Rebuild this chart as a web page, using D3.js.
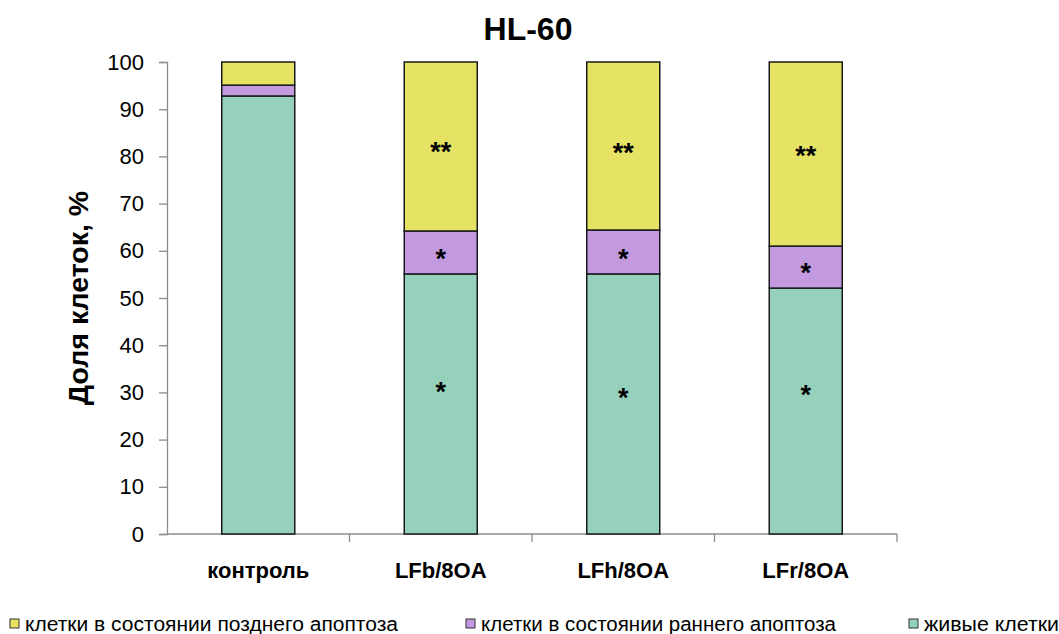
<!DOCTYPE html>
<html>
<head>
<meta charset="utf-8">
<script src="https://cdn.jsdelivr.net/npm/d3@7"></script>
<style>
  body { margin: 0; background: #fff; }
  svg { display: block; font-family: "Liberation Sans", Arial, sans-serif; }
</style>
</head>
<body>
<svg id="chart" width="1059" height="634"></svg>
<script>
// Categories and stacked percentages (bottom to top: live, early apoptosis, late apoptosis)
const categories = ["контроль", "LFb/8OA", "LFh/8OA", "LFr/8OA"];
const live  = [92.8, 55.1, 55.1, 52.1];
const early = [2.3, 9.1, 9.3, 8.9];
const late  = [4.9, 35.8, 35.6, 39.0];

// Significance marks per segment, with the value level at which each is written
const liveMarks  = ["", "*", "*", "*"];
const liveMarkY  = [0, 31.4, 30.1, 30.7];
const earlyMarks = ["", "*", "*", "*"];
const earlyMarkY = [0, 59.6, 59.7, 56.6];
const lateMarks  = ["", "**", "**", "**"];
const lateMarkY  = [0, 82.3, 82.1, 81.5];

const seriesNames = ["клетки в состоянии позднего апоптоза", "клетки в состоянии раннего апоптоза", "живые клетки"];
const seriesColors = ["#E5E264", "#C39AE0", "#96D2BB"];
const yTicks = [0, 10, 20, 30, 40, 50, 60, 70, 80, 90, 100];

const svg = d3.select("#chart");
const margin = { left: 167, right: 162, top: 62, bottom: 100 };
const W = 1059, H = 634;

const x = d3.scaleBand().domain(categories).range([margin.left, W - margin.right]).paddingInner(0.6).paddingOuter(0.3);
const xOuter = d3.scaleBand().domain(categories).range([margin.left, W - margin.right]);
const y = d3.scaleLinear().domain([0, 100]).range([H - margin.bottom, margin.top]);

// Stack the three series
const rows = categories.map((c, i) => ({ cat: c, live: live[i], early: early[i], late: late[i] }));
const stack = d3.stack().keys(["live", "early", "late"])(rows);
const colorFor = { live: seriesColors[2], early: seriesColors[1], late: seriesColors[0] };

// Axes
const yAxis = d3.axisLeft(y).tickValues(yTicks).tickSize(8).tickPadding(15);
const gy = svg.append("g").attr("transform", `translate(${margin.left},0)`).call(yAxis);
gy.selectAll("path, line").attr("stroke", "#8c8c8c").attr("stroke-width", 1.3);
gy.selectAll("text").attr("font-size", 22).attr("fill", "#000");

// X axis baseline with separator ticks between categories
const gx = svg.append("g");
gx.append("line")
  .attr("x1", margin.left).attr("x2", W - margin.right)
  .attr("y1", y(0)).attr("y2", y(0))
  .attr("stroke", "#8c8c8c").attr("stroke-width", 1.3);
gx.selectAll("line.sep").data(categories.slice(1)).join("line")
  .attr("class", "sep")
  .attr("x1", d => xOuter(d)).attr("x2", d => xOuter(d))
  .attr("y1", y(0)).attr("y2", y(0) + 8)
  .attr("stroke", "#8c8c8c").attr("stroke-width", 1.3);
gx.append("line")
  .attr("x1", W - margin.right).attr("x2", W - margin.right)
  .attr("y1", y(0)).attr("y2", y(0) + 8)
  .attr("stroke", "#8c8c8c").attr("stroke-width", 1.3);
gx.selectAll("text").data(categories).join("text")
  .attr("x", d => xOuter(d) + xOuter.bandwidth() / 2)
  .attr("y", y(0) + 44)
  .attr("text-anchor", "middle")
  .attr("font-size", 22).attr("font-weight", "bold")
  .text(d => d);

// Stacked bars
stack.forEach(layer => {
  svg.append("g").selectAll("rect").data(layer).join("rect")
    .attr("x", d => x(d.data.cat))
    .attr("width", x.bandwidth())
    .attr("y", d => y(d[1]))
    .attr("height", d => y(d[0]) - y(d[1]))
    .attr("fill", colorFor[layer.key])
    .attr("stroke", "#1a1a1a").attr("stroke-width", 1.5);
});

// Significance asterisks, glyph centred on the given value
const markSize = 27;
const markShift = markSize * 0.57;
const markLayer = svg.append("g").attr("font-size", markSize).attr("font-weight", "bold").attr("text-anchor", "middle");
categories.forEach((c, i) => {
  const cx = x(c) + x.bandwidth() / 2;
  [[liveMarks, liveMarkY], [earlyMarks, earlyMarkY], [lateMarks, lateMarkY]].forEach(([marks, ys]) => {
    if (marks[i]) markLayer.append("text").attr("x", cx).attr("y", y(ys[i]) + markShift).text(marks[i]);
  });
});

// Title
svg.append("text").attr("x", 528).attr("y", 40).attr("text-anchor", "middle")
  .attr("font-size", 32).attr("font-weight", "bold").text("HL-60");

// Y axis title
svg.append("text")
  .attr("transform", `translate(88,${(y(0) + y(100)) / 2}) rotate(-90)`)
  .attr("text-anchor", "middle").attr("font-size", 28.5).attr("font-weight", "bold")
  .text("Доля клеток, %");

// Legend
const legendX = [10, 466, 909];
const legendW = [373, 355, 135];
const lg = svg.append("g");
seriesNames.forEach((name, i) => {
  lg.append("rect").attr("x", legendX[i]).attr("y", 619).attr("width", 9).attr("height", 9)
    .attr("fill", seriesColors[i]).attr("stroke", "#333").attr("stroke-width", 1);
  lg.append("text").attr("x", legendX[i] + 15).attr("y", 631)
    .attr("font-size", 20).attr("textLength", legendW[i]).attr("lengthAdjust", "spacingAndGlyphs")
    .text(name);
});
</script>
</body>
</html>
